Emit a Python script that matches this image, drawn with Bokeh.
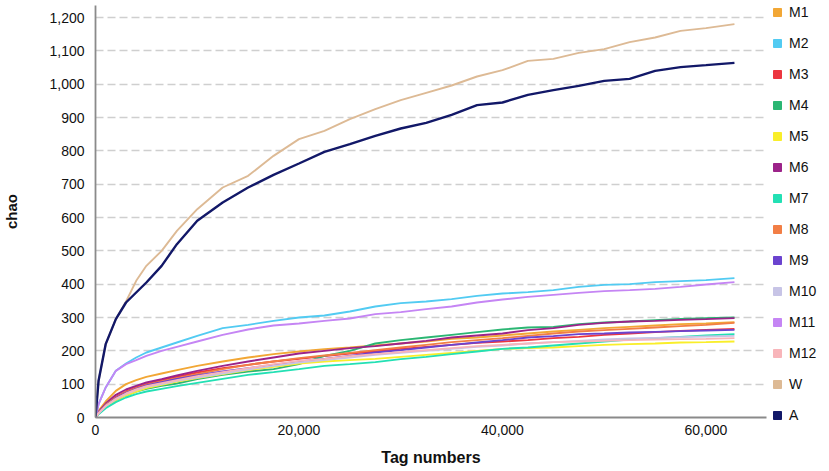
from bokeh.plotting import figure
from bokeh.models import (Legend, LegendItem, NumeralTickFormatter, FixedTicker,
                          Range1d)
from bokeh.embed import file_html
from bokeh.resources import INLINE

tags = [0, 300, 1000, 2000, 3000, 4000, 5000, 6500, 8000, 10000, 12500, 15000,
        17500, 20000, 22500, 25000, 27500, 30000, 32500, 35000, 37500, 40000,
        42500, 45000, 47500, 50000, 52500, 55000, 57500, 60000, 62800]

M1 = [0, 20, 48, 80, 100, 112, 122, 132, 142, 155, 168, 180, 190, 198, 205, 210,
      216, 222, 228, 236, 240, 246, 252, 258, 263, 268, 272, 276, 280, 282, 286]
M2 = [0, 40, 90, 140, 162, 180, 195, 210, 225, 245, 268, 278, 290, 300, 306, 318,
      333, 343, 348, 355, 365, 372, 376, 382, 392, 398, 400, 406, 409, 412, 418]
M3 = [0, 15, 40, 62, 78, 90, 100, 112, 122, 135, 148, 158, 168, 176, 184, 192,
      198, 206, 212, 218, 224, 228, 232, 238, 242, 248, 252, 256, 260, 263, 266]
M4 = [0, 12, 32, 52, 66, 78, 86, 95, 102, 115, 128, 138, 145, 160, 185, 200,
      222, 232, 240, 248, 256, 264, 270, 272, 280, 285, 288, 292, 296, 298, 300]
M5 = [0, 12, 32, 52, 66, 78, 88, 98, 108, 118, 130, 142, 152, 162, 168, 172,
      176, 182, 188, 194, 200, 206, 208, 210, 214, 218, 220, 222, 225, 226, 228]
M6 = [0, 16, 42, 68, 84, 95, 105, 115, 126, 140, 155, 168, 180, 192, 200, 208,
      214, 222, 230, 240, 246, 252, 262, 268, 278, 284, 288, 290, 293, 295, 298]
M7 = [0, 10, 28, 46, 60, 70, 78, 86, 94, 104, 116, 128, 136, 145, 155, 160,
      166, 175, 182, 190, 198, 206, 210, 216, 222, 228, 234, 238, 242, 246, 250]
M8 = [0, 14, 38, 60, 76, 88, 98, 108, 118, 130, 145, 158, 168, 178, 186, 194,
      202, 210, 218, 226, 232, 238, 245, 252, 258, 262, 266, 270, 274, 278, 284]
M9 = [0, 14, 36, 58, 74, 86, 96, 106, 116, 126, 138, 148, 158, 168, 176, 185,
      195, 202, 210, 218, 225, 232, 240, 244, 250, 252, 255, 257, 259, 261, 263]
M10 = [0, 12, 34, 55, 70, 82, 92, 100, 110, 120, 132, 144, 155, 165, 172, 180,
       188, 194, 200, 206, 212, 216, 222, 226, 230, 234, 237, 239, 241, 243, 245]
M11 = [0, 40, 90, 140, 160, 172, 185, 200, 212, 228, 248, 264, 276, 282, 290, 297,
       310, 316, 325, 333, 345, 354, 362, 368, 374, 379, 382, 386, 392, 399, 406]
M12 = [0, 13, 35, 56, 72, 84, 94, 103, 112, 124, 136, 148, 160, 170, 176, 184,
       190, 196, 202, 208, 214, 218, 222, 226, 228, 230, 232, 234, 235, 236, 238]
W = [0, 110, 220, 295, 348, 410, 455, 500, 560, 625, 690, 725, 785, 835, 860, 895,
     925, 952, 974, 996, 1023, 1042, 1070, 1076, 1094, 1105, 1126, 1140, 1160, 1168, 1180]
A = [0, 110, 220, 295, 345, 375, 405, 455, 520, 590, 645, 690, 728, 762, 797, 820,
     845, 867, 884, 908, 937, 945, 968, 982, 995, 1010, 1016, 1040, 1051, 1057, 1064]

names = ["M1", "M2", "M3", "M4", "M5", "M6", "M7", "M8", "M9", "M10", "M11", "M12", "W", "A"]
series = [M1, M2, M3, M4, M5, M6, M7, M8, M9, M10, M11, M12, W, A]
colors = ["#F2A735", "#52CBF2", "#EC3640", "#2BB673", "#F9EE2A", "#9C2389", "#23E0B4",
          "#F27E45", "#6B43CF", "#C7C4E6", "#C585F4", "#F8B5BA", "#DDBA95", "#121868"]

y_ticks = [0, 100, 200, 300, 400, 500, 600, 700, 800, 900, 1000, 1100, 1200]
x_ticks = [0, 20000, 40000, 60000]

FONT = "Liberation Sans"
NAN = float("nan")

p = figure(frame_width=671, frame_height=412, output_backend="svg", toolbar_location=None,
           x_range=Range1d(0, 65950), y_range=Range1d(0, 1236),
           min_border_left=93, min_border_top=5, min_border_right=56, min_border_bottom=0)
p.outline_line_color = None
p.background_fill_color = "white"

for name, vals, c in zip(names, series, colors):
    w = 2.4 if name == "A" else 1.9
    p.line(tags, vals, line_color=c, line_width=w)

items = []
for name, c in zip(names, colors):
    r = p.quad(left=[NAN], right=[NAN], top=[NAN], bottom=[NAN],
               fill_color=c, line_color=c)
    items.append(LegendItem(label=name, renderers=[r]))

legend = Legend(items=items, location=(6, -6), margin=0, padding=0,
                glyph_width=10, glyph_height=10, label_height=14, spacing=15,
                label_standoff=7, border_line_alpha=0, background_fill_alpha=0,
                label_text_font=FONT, label_text_font_size="14px",
                label_text_color="#111111")
p.add_layout(legend, "right")

p.xgrid.visible = False
p.ygrid.grid_line_color = "#CFCFCF"
p.ygrid.grid_line_dash = "8 4"
p.ygrid.grid_line_width = 1.3
p.ygrid.ticker = FixedTicker(ticks=y_ticks[1:])

for ax in (p.xaxis[0], p.yaxis[0]):
    ax.major_tick_out = 0
    ax.major_tick_in = 0
    ax.minor_tick_out = 0
    ax.minor_tick_in = 0
    ax.axis_line_color = "#8A8A8A"
    ax.axis_line_width = 1.8
    ax.formatter = NumeralTickFormatter(format="0,0")
    ax.major_label_text_font = FONT
    ax.major_label_text_font_size = "14px"
    ax.major_label_text_color = "#111111"
    ax.axis_label_text_font = FONT
    ax.axis_label_text_font_style = "bold"
    ax.axis_label_text_color = "#111111"

p.yaxis.ticker = FixedTicker(ticks=y_ticks)
p.xaxis.ticker = FixedTicker(ticks=x_ticks)
p.yaxis.axis_label = "chao"
p.xaxis.axis_label = "Tag numbers"
p.yaxis.axis_label_text_font_size = "15px"
p.xaxis.axis_label_text_font_size = "16px"
p.yaxis.major_label_standoff = 11
p.xaxis.major_label_standoff = 7
p.yaxis.axis_label_standoff = 26
p.xaxis.axis_label_standoff = 11

open("out.html", "w").write(file_html(p, INLINE))
